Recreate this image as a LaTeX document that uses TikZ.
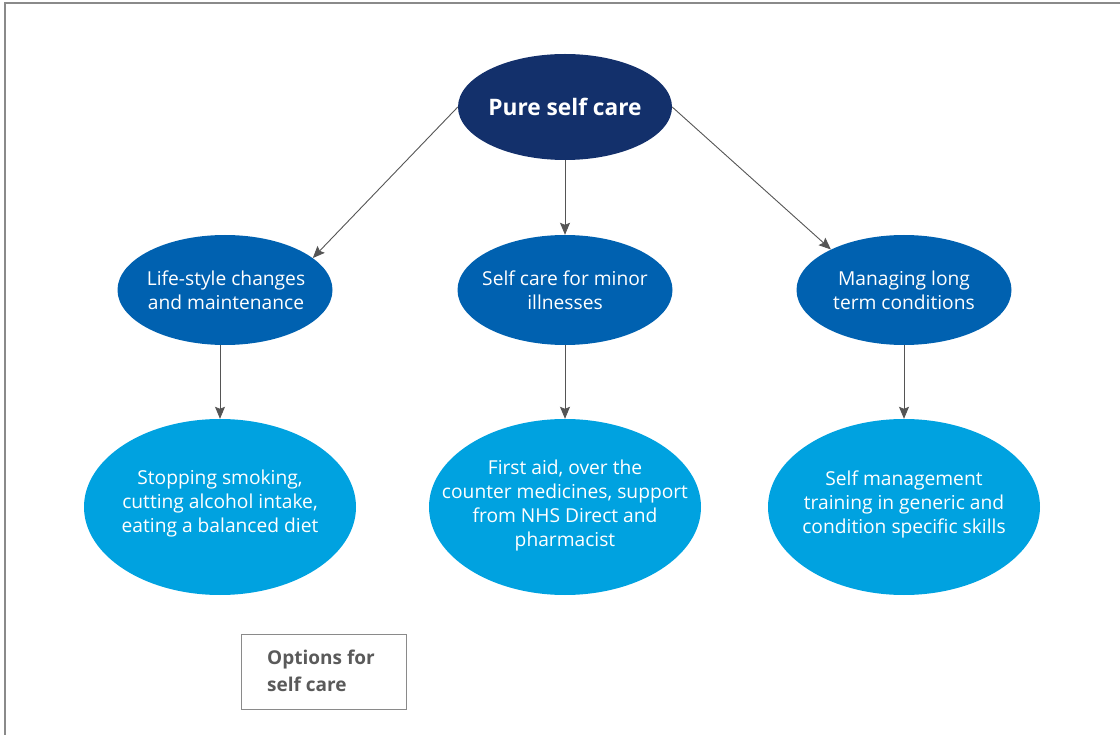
\documentclass[tikz,border=0pt]{standalone}
\usepackage{fontspec}
\setmainfont{Open Sans}
\usetikzlibrary{shapes.geometric,arrows.meta}
\definecolor{navy}{HTML}{13306B}
\definecolor{midblue}{HTML}{0061B0}
\definecolor{lightblue}{HTML}{00A2E0}
\definecolor{arrowgray}{HTML}{555555}
\definecolor{framegray}{HTML}{8A8A8A}
\definecolor{boxtext}{HTML}{5A5A5A}
\tikzset{
  topell/.style={ellipse, fill=navy, minimum width=214pt, minimum height=106pt, inner sep=0pt},
  midell/.style={ellipse, fill=midblue, minimum width=215pt, minimum height=110pt, inner sep=0pt},
  lowell/.style={ellipse, fill=lightblue, minimum width=272pt, minimum height=176pt, inner sep=0pt},
  txt/.style={text=white, align=center, font=\fontsize{19.2}{24}\selectfont, inner sep=0pt},
  toptxt/.style={text=white, font=\fontsize{22.7}{26}\selectfont\bfseries, inner sep=0pt},
  conn/.style={draw=arrowgray, line width=0.9pt, -{Stealth[length=12pt,width=10pt,inset=2pt]}},
  optbox/.style={draw=framegray, line width=1pt, minimum width=165pt, minimum height=75pt, inner sep=0pt},
}
\begin{document}
\begin{tikzpicture}[x=1pt,y=-1pt]
\useasboundingbox (0,0) rectangle (1120,735);
\draw[framegray, line width=1.5pt] (5,735) -- (5,3) -- (1120,3);
\node[topell] (top) at (565,107) {};
\node[toptxt] (toplbl) at (565,107) {Pure self care};
\node[midell] (ml) at (225,290) {};
\node[txt] (mltxt) at (226,290) {Life-style changes\\and maintenance};
\node[midell] (mc) at (565,290) {};
\node[txt] (mctxt) at (565,290) {Self care for minor\\illnesses};
\node[midell] (mr) at (904,290) {};
\node[txt] (mrtxt) at (904,290) {Managing long\\term conditions};
\node[lowell] (ll) at (220,507) {};
\node[txt] (lltxt) at (220,504) {Stopping smoking,\\cutting alcohol intake,\\eating a balanced diet};
\node[lowell] (lc) at (565,507) {};
\node[txt] (lctxt) at (565,506) {First aid, over the\\counter medicines, support\\from NHS Direct and\\pharmacist};
\node[lowell] (lr) at (904,507) {};
\node[txt] (lrtxt) at (904,504) {Self management\\training in generic and\\condition specific skills};
\node[optbox] (opt) at (323.5,671.5) {};
\node[text=boxtext, align=left, anchor=west, font=\fontsize{19}{27}\selectfont\bfseries, inner sep=0pt] (opttxt) at (267,671) {Options for\\self care};
\draw[conn] (top.west) -- (ml.20);
\draw[conn] (top.south) -- (mc.north);
\draw[conn] (top.east) -- (mr.151);
\draw[conn] (ml.south -| ll.north) -- (ll.north);
\draw[conn] (mc.south) -- (lc.north);
\draw[conn] (mr.south) -- (lr.north);
\end{tikzpicture}
\end{document}
